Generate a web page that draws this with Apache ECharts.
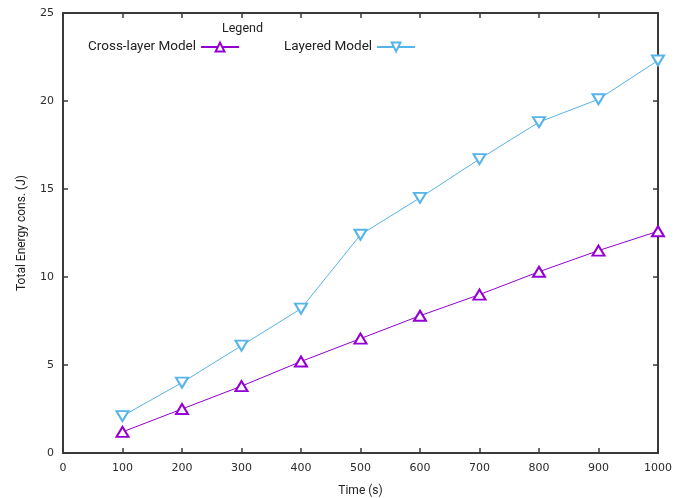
<!DOCTYPE html>
<html>
<head>
<meta charset="utf-8">
<script src="https://cdn.jsdelivr.net/npm/echarts@6/dist/echarts.min.js"></script>
<style>html,body{margin:0;padding:0;background:#fff}#c{width:689px;height:498px}</style>
</head>
<body>
<div id="c"></div>
<script>
const times = [100, 200, 300, 400, 500, 600, 700, 800, 900, 1000];
const crossLayer = [1.2, 2.5, 3.8, 5.2, 6.5, 7.8, 9.0, 10.3, 11.5, 12.6];
const layered = [2.1, 4.0, 6.1, 8.2, 12.4, 14.5, 16.7, 18.8, 20.1, 22.3];
const seriesNames = ['Cross-layer Model', 'Layered Model'];
const xTitle = 'Time (s)';
const yTitle = 'Total Energy cons. (J)';
const legendTitle = 'Legend';

const chart = echarts.init(document.getElementById('c'), null, {renderer: 'canvas'});
const axisCol = '#3a3a3a';
const labelFont = {color: '#2a2a2a', fontFamily: 'DejaVu Sans', fontSize: 11};
function pairs(vals) { return times.map((t, i) => [t, vals[i]]); }
const plain = v => String(v);

chart.setOption({
  animation: false,
  backgroundColor: '#fff',
  grid: {left: 63, right: 31, top: 13, bottom: 45, containLabel: false, outerBoundsMode: 'none'},
  legend: [{
    data: [seriesNames[0]],
    left: 83, top: 35, align: 'right',
    itemWidth: 38, itemHeight: 11, itemGap: 10,
    textStyle: {color: '#222', fontFamily: 'Roboto', fontSize: 13.5}
  }, {
    data: [seriesNames[1]],
    left: 279, top: 35, align: 'right',
    itemWidth: 38, itemHeight: 11, itemGap: 10,
    textStyle: {color: '#222', fontFamily: 'Roboto', fontSize: 13.5}
  }],
  graphic: [{
    type: 'text', left: 222, top: 22,
    style: {text: legendTitle, fill: '#222', font: '12.5px Roboto'}
  }],
  xAxis: [{
    type: 'value', min: 0, max: 1000, interval: 100,
    name: xTitle, nameLocation: 'middle', nameGap: 32,
    nameTextStyle: {color: '#222', fontFamily: 'Roboto', fontSize: 12},
    axisLine: {show: true, onZero: false, lineStyle: {color: axisCol, width: 2}},
    axisTick: {show: true, inside: true, length: 5, lineStyle: {color: axisCol, width: 1.5}},
    axisLabel: Object.assign({margin: 10, formatter: plain}, labelFont),
    splitLine: {show: false}
  }, {
    type: 'value', position: 'top', min: 0, max: 1000, interval: 100,
    axisLine: {show: true, onZero: false, lineStyle: {color: axisCol, width: 2}},
    axisTick: {show: true, inside: true, length: 5, lineStyle: {color: axisCol, width: 1.5}},
    axisLabel: {show: false}, splitLine: {show: false}
  }],
  yAxis: [{
    type: 'value', min: 0, max: 25, interval: 5,
    name: yTitle, nameLocation: 'middle', nameGap: 35, nameRotate: 90,
    nameTextStyle: {color: '#222', fontFamily: 'Roboto', fontSize: 12},
    axisLine: {show: true, onZero: false, lineStyle: {color: axisCol, width: 2}},
    axisTick: {show: true, inside: true, length: 5, lineStyle: {color: axisCol, width: 1.5}},
    axisLabel: Object.assign({margin: 9, formatter: plain}, labelFont),
    splitLine: {show: false}
  }, {
    type: 'value', position: 'right', min: 0, max: 25, interval: 5,
    axisLine: {show: true, onZero: false, lineStyle: {color: axisCol, width: 2}},
    axisTick: {show: true, inside: true, length: 5, lineStyle: {color: axisCol, width: 1.5}},
    axisLabel: {show: false}, splitLine: {show: false}
  }],
  series: [{
    name: seriesNames[0], type: 'line', data: pairs(crossLayer),
    symbol: 'emptyTriangle', symbolSize: [12, 10], showAllSymbol: true,
    lineStyle: {color: '#9400d3', width: 1},
    itemStyle: {color: '#9400d3', borderColor: '#a433dd', borderWidth: 1}
  }, {
    name: seriesNames[1], type: 'line', data: pairs(layered),
    symbol: 'emptyTriangle', symbolRotate: 180, symbolSize: [12, 10], showAllSymbol: true,
    lineStyle: {color: '#56b4e9', width: 1},
    itemStyle: {color: '#56b4e9', borderColor: '#6cbeec', borderWidth: 1}
  }]
});
</script>
</body>
</html>
